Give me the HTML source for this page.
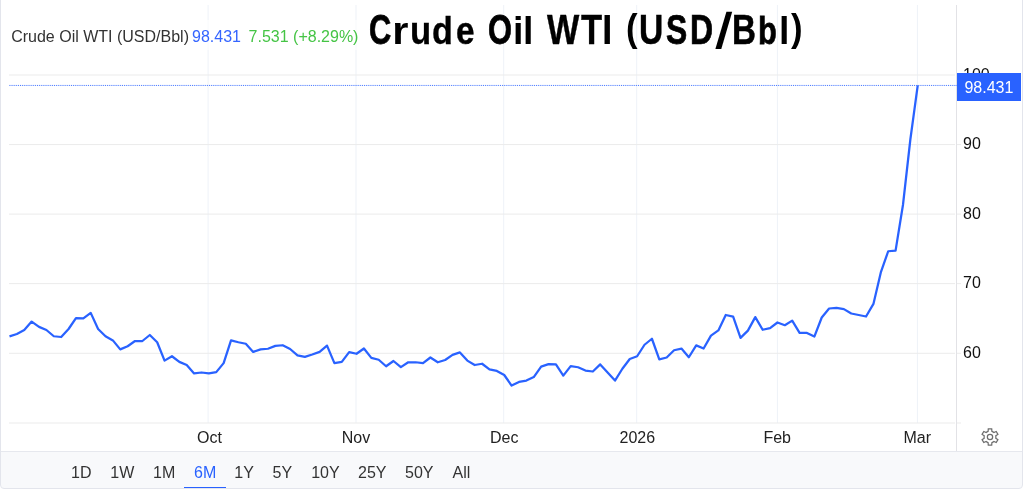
<!DOCTYPE html>
<html lang="en"><head><meta charset="utf-8"><title>Crude Oil WTI (USD/Bbl)</title>
<style>
html,body{margin:0;padding:0;background:#fff;}
body{width:1024px;height:490px;overflow:hidden;position:relative;font-family:"Liberation Sans",Arial,sans-serif;font-size:16px;color:#333;}
#frame{position:absolute;left:0;top:-2px;width:1023px;height:491px;box-sizing:border-box;border:1px solid #e3e5ec;border-radius:0 0 4px 4px;pointer-events:none;}
#chart{position:absolute;left:0;top:0;}
.t{position:absolute;white-space:nowrap;line-height:18px;height:18px;}
.xl{top:429px;width:60px;text-align:center;color:#222;}
.yl{left:963px;color:#111;}
#legend{position:absolute;left:9px;top:20px;width:351px;height:30px;background:rgba(255,255,255,.6);}
#legend .t{top:8px;}
#title{position:absolute;left:0;top:4.73px;height:49.92px;width:820px;font-weight:bold;font-size:41.6px;line-height:49.92px;color:#000;white-space:nowrap;}
#title span{position:absolute;top:0;transform-origin:0 39.37px;display:block;}
#title span.sp{left:480px;width:4px;overflow:hidden;}
#bar{position:absolute;left:1px;top:451px;width:1021px;height:37px;background:#f8f9fb;border-top:1px solid #e6e8ee;box-sizing:border-box;border-radius:0 0 3px 3px;}
#bar .b{position:absolute;top:12px;line-height:18px;color:#333;padding:0 10px;height:25px;box-sizing:border-box;white-space:nowrap;}
#bar .b.on{color:#2962ff;border-bottom:2px solid #2962ff;}
#tag{position:absolute;left:957px;top:73px;width:64px;height:28px;background:#2962ff;color:#fff;line-height:30px;text-indent:7.4px;}
</style></head><body>
<svg id="chart" width="1022" height="452" viewBox="0 0 1022 452">
<g fill="#eef2f8"><rect x="207.60" y="5" width="1" height="418"/><rect x="355.50" y="5" width="1" height="418"/><rect x="503.20" y="5" width="1" height="418"/><rect x="636.20" y="5" width="1" height="418"/><rect x="776.90" y="5" width="1" height="418"/><rect x="916.90" y="5" width="1" height="418"/></g><g fill="#ebebeb"><rect x="9" y="74.50" width="946" height="1"/><rect x="957" y="74.50" width="4" height="1"/><rect x="9" y="144.06" width="946" height="1"/><rect x="957" y="144.06" width="4" height="1"/><rect x="9" y="213.60" width="946" height="1"/><rect x="957" y="213.60" width="4" height="1"/><rect x="9" y="283.10" width="946" height="1"/><rect x="957" y="283.10" width="4" height="1"/><rect x="9" y="352.80" width="946" height="1"/><rect x="957" y="352.80" width="4" height="1"/><rect x="9" y="422.50" width="946" height="1"/><rect x="957" y="422.50" width="4" height="1"/></g>
<rect x="956" y="5" width="1" height="446" fill="#e2e2e6" shape-rendering="crispEdges"/>
<line x1="9" y1="85.45" x2="957" y2="85.45" stroke="#2962ff" stroke-opacity="0.9" stroke-width="1" stroke-dasharray="0.945 0.945" stroke-dashoffset="0.33"/>
<polyline fill="none" stroke="#2962ff" stroke-width="2.25" stroke-linejoin="round" stroke-linecap="butt" points="9.50,336.40 16.88,334.00 24.27,330.00 31.65,321.60 39.04,326.90 46.42,330.00 53.80,336.25 61.19,337.00 68.57,329.00 75.96,318.10 83.34,318.40 90.72,312.90 98.11,329.00 105.49,336.25 112.88,340.40 120.26,349.40 127.64,346.25 135.03,341.00 142.41,341.00 149.80,335.00 157.18,342.25 164.56,360.60 171.95,356.25 179.33,361.90 186.72,365.00 194.10,373.40 201.48,372.50 208.87,373.40 216.25,372.10 223.64,363.10 231.02,340.40 238.40,342.25 245.79,343.75 253.17,351.90 260.56,349.40 267.94,348.75 275.32,345.90 282.71,345.25 290.09,349.00 297.48,355.40 304.86,356.90 312.24,354.50 319.63,351.90 327.01,345.60 334.40,363.10 341.78,361.90 349.16,352.10 356.55,353.75 363.93,348.50 371.32,357.90 378.70,359.75 386.08,366.25 393.47,361.00 400.85,367.10 408.24,362.25 415.62,362.25 423.00,363.10 430.39,357.50 437.77,362.25 445.16,360.00 452.54,354.90 459.92,352.40 467.31,360.60 474.69,365.00 482.08,363.75 489.46,369.40 496.84,370.90 504.23,375.00 511.61,385.60 519.00,381.90 526.38,380.60 533.76,377.10 541.15,366.60 548.53,364.10 555.92,364.40 563.30,375.60 570.68,366.10 578.07,367.25 585.45,370.60 592.84,371.50 600.22,364.40 607.60,372.50 614.99,380.60 622.37,368.75 629.76,359.00 637.14,356.25 644.52,344.75 651.91,338.75 659.29,359.40 666.68,357.50 674.06,350.25 681.44,348.60 688.83,357.25 696.21,345.40 703.60,348.50 710.98,335.60 718.36,330.40 725.75,315.00 733.13,316.60 740.52,337.90 747.90,330.60 755.28,317.10 762.67,329.75 770.05,328.10 777.44,322.50 784.82,325.20 792.20,320.60 799.59,332.90 806.97,332.90 814.36,336.60 821.74,317.50 829.12,308.50 836.51,307.90 843.89,309.10 851.28,313.50 858.66,315.00 866.04,316.50 873.43,303.90 880.81,272.40 888.20,251.25 895.58,250.60 902.96,205.00 910.35,139.50 917.73,85.40"/>
</svg>
<div id="legend"><span class="t" style="left:2.2px">Crude Oil WTI (USD/Bbl)</span><span class="t" style="left:183px;color:#3565ff">98.431</span><span class="t" style="left:239.6px;color:#45c445">7.531 (+8.29%)</span></div>
<div id="title"><span style="left:368.58px;-webkit-text-stroke:0.80px #000;transform:scale(0.740,1.0)">C</span><span style="left:392.16px;transform:scale(1.000,0.95)">r</span><span style="left:410.27px;-webkit-text-stroke:0.29px #000;transform:scale(0.834,0.95)">u</span><span style="left:432.45px;-webkit-text-stroke:0.37px #000;transform:scale(0.820,0.95)">d</span><span style="left:456.09px;-webkit-text-stroke:0.48px #000;transform:scale(0.802,0.95)">e</span><span class="sp"> </span><span style="left:488.08px;-webkit-text-stroke:0.80px #000;transform:scale(0.740,1.0)">O</span><span style="left:512.69px;transform:scale(0.900,0.95)">i</span><span style="left:522.94px;transform:scale(0.900,0.95)">l</span><span class="sp"> </span><span style="left:546.68px;-webkit-text-stroke:0.41px #000;transform:scale(0.822,1.0)">W</span><span style="left:581.29px;-webkit-text-stroke:0.31px #000;transform:scale(0.832,1.0)">T</span><span style="left:602.39px;transform:scale(0.901,1.0)">I</span><span class="sp"> </span><span style="left:626.07px;top:-2.6px;transform:scale(0.835,0.95)">(</span><span style="left:638.86px;-webkit-text-stroke:0.46px #000;transform:scale(0.809,1.0)">U</span><span style="left:665.67px;-webkit-text-stroke:0.75px #000;transform:scale(0.765,1.0)">S</span><span style="left:690.03px;-webkit-text-stroke:0.72px #000;transform:scale(0.770,1.0)">D</span><span style="left:717.97px;top:0.91px;transform-origin:5.78px 24.72px;transform:skewX(-6.03deg) scale(1.200,1.204)">/</span><span style="left:732.05px;-webkit-text-stroke:0.54px #000;transform:scale(0.797,1.0)">B</span><span style="left:758.32px;-webkit-text-stroke:0.80px #000;transform:scale(0.740,0.95)">b</span><span style="left:778.94px;transform:scale(0.900,0.95)">l</span><span style="left:790.87px;top:-2.6px;transform:scale(0.835,0.95)">)</span></div>
<span class="t yl" style="top:66px">100</span>
<span class="t yl" style="top:135px">90</span>
<span class="t yl" style="top:205px">80</span>
<span class="t yl" style="top:274px">70</span>
<span class="t yl" style="top:344px">60</span>
<div id="tag">98.431</div>
<span class="t xl" style="left:179.4px">Oct</span>
<span class="t xl" style="left:326px">Nov</span>
<span class="t xl" style="left:474.3px">Dec</span>
<span class="t xl" style="left:607.3px">2026</span>
<span class="t xl" style="left:747.2px">Feb</span>
<span class="t xl" style="left:887.2px">Mar</span>
<svg id="gear" style="position:absolute;left:980.75px;top:428.05px" width="18" height="18" viewBox="0 0 18 18"><g fill="none" stroke="#6e6e6e" stroke-width="1.25" stroke-linejoin="miter"><path d="M7.10 3.41L7.30 0.82L10.70 0.82L10.90 3.41A5.9 5.9 0 0 1 12.89 4.56L15.23 3.44L16.93 6.38L14.79 7.85A5.9 5.9 0 0 1 14.79 10.15L16.93 11.62L15.23 14.56L12.89 13.44A5.9 5.9 0 0 1 10.90 14.59L10.70 17.18L7.30 17.18L7.10 14.59A5.9 5.9 0 0 1 5.11 13.44L2.77 14.56L1.07 11.62L3.21 10.15A5.9 5.9 0 0 1 3.21 7.85L1.07 6.38L2.77 3.44L5.11 4.56A5.9 5.9 0 0 1 7.10 3.41Z"/><circle cx="9" cy="9" r="2.65"/></g></svg>
<div id="bar">
<span class="b" style="left:60px">1D</span><span class="b" style="left:99.3px">1W</span><span class="b" style="left:142px">1M</span><span class="b on" style="left:183px">6M</span><span class="b" style="left:223.3px">1Y</span><span class="b" style="left:261.5px">5Y</span><span class="b" style="left:300.2px">10Y</span><span class="b" style="left:347px">25Y</span><span class="b" style="left:394px">50Y</span><span class="b" style="left:441.5px">All</span>
</div>
<div id="frame"></div>
</body></html>
